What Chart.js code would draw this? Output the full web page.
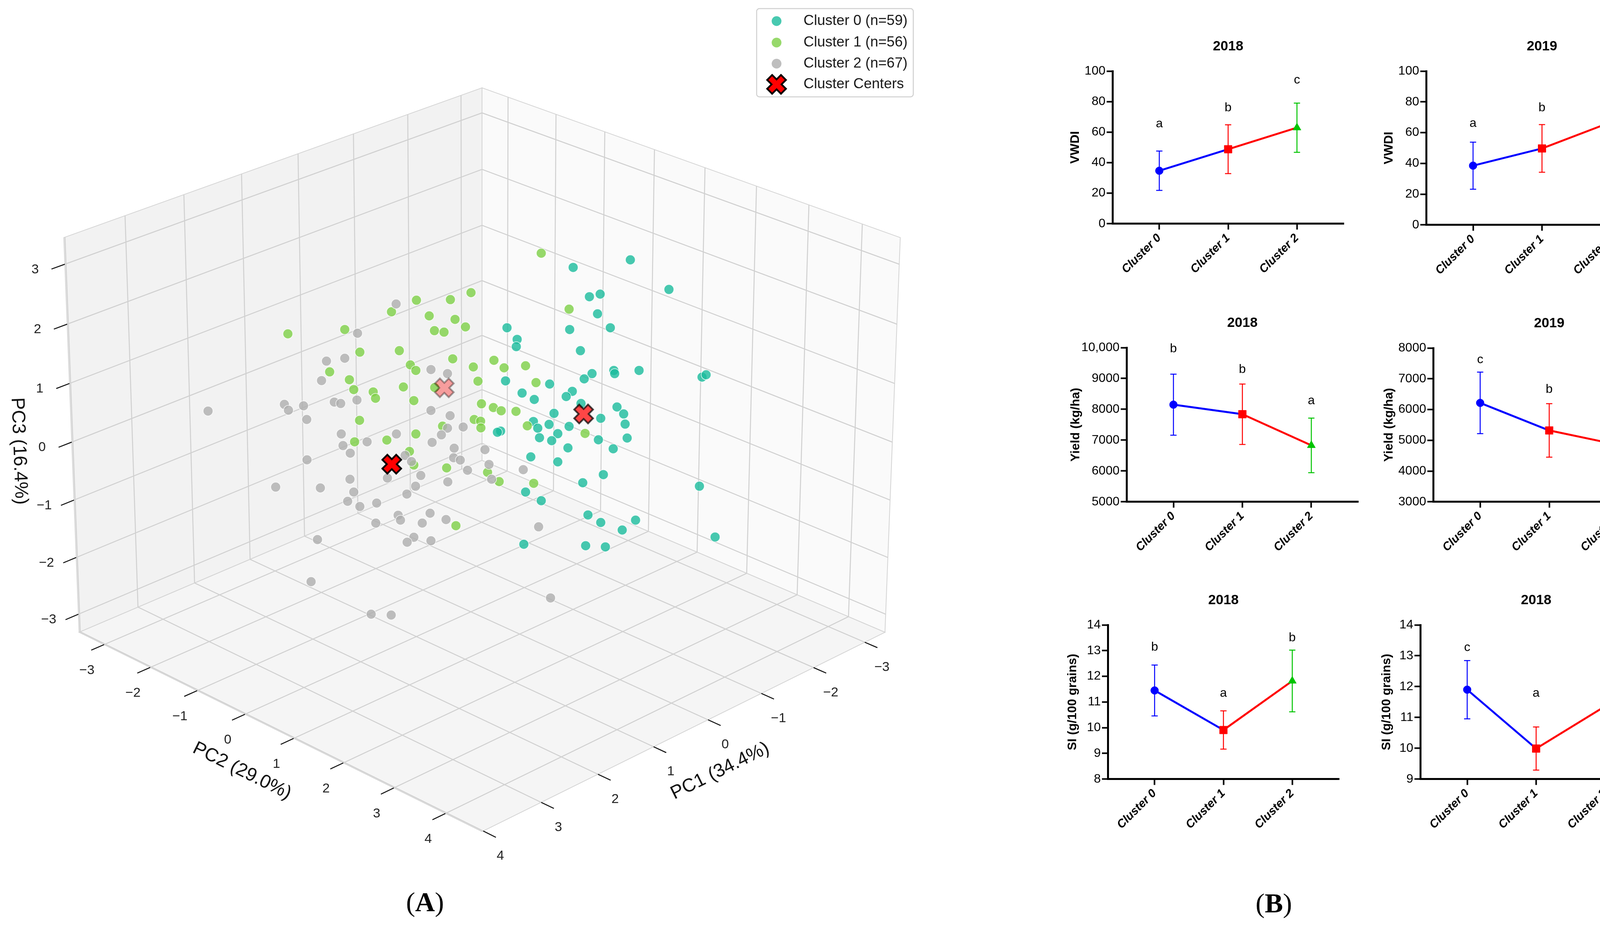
<!DOCTYPE html>
<html>
<head>
<meta charset="utf-8">
<script src="https://cdn.jsdelivr.net/npm/chart.js@4.4.1/dist/chart.umd.min.js"></script>
<style>
  html, body { margin: 0; padding: 0; background: #fff; }
  #page { position: relative; width: 4285px; height: 2376px; overflow: hidden; background: #fff; }
  #page canvas { position: absolute; }
  .plabel { position: absolute; font-family: 'Liberation Serif', 'Times New Roman', serif; font-size: 70px;
            transform: translate(-50%, -50%); color: #000; white-space: nowrap; }
</style>
</head>
<body>
<div id="page">
  <canvas id="pca" width="2400" height="2376" style="left:0;top:0;width:2400px;height:2376px"></canvas>
  <div class="plabel" style="left:1088px;top:2310px">(<b>A</b>)</div>
  <div class="plabel" style="left:3261px;top:2313px">(<b>B</b>)</div>
</div>
<script>
const SANS = "'Liberation Sans', Arial, sans-serif"

// ---- Panel A: PCA scores, read off the picture as view-plane coordinates
// (percent of the box half-width, after the 3D projection)
const cluster0X = [51.1, 31.4, 64.4, 37.0, 40.7, 39.8, 8.6, 30.2, 44.2, 12.1, 11.8, 33.9, 45.4, 45.7, 54.1, 37.9, 35.2, 75.8, 77.2, 8.1,
  23.3, 13.8, 18.0, 31.1, 29.0, 34.1, 46.5, 48.8, 24.8, 40.9, 49.3, 17.7, 19.2, 23.1, 30.0, 26.1, 6.4, 5.3, 19.8, 24.0,
  40.1, 50.0, 29.6, 45.2, 16.8, 26.1, 41.8, 34.7, 74.9, 15.0, 20.4, 36.5, 40.9, 52.9, 48.3, 35.7, 42.5, 14.4, 80.3]
const cluster0Y = [61.6, 59.0, 51.4, 48.9, 49.8, 43.0, 38.2, 37.6, 38.2, 34.2, 31.7, 30.3, 23.5, 22.4, 23.5, 22.4, 20.6, 21.2, 22.0, 19.9,
  18.8, 15.7, 13.5, 16.3, 14.5, 12.1, 10.9, 8.5, 8.7, 7.0, 5.0, 5.9, 3.6, 4.9, 4.2, 1.7, 2.6, 2.2, 0.3, -0.7,
  -0.4, 0.2, -3.2, -3.5, -6.3, -8.0, -12.4, -15.2, -16.4, -18.4, -21.4, -26.3, -28.9, -28.1, -31.5, -36.9, -37.3, -36.4, -33.9]

const cluster1X = [-22.6, -10.9, -31.2, -18.2, -9.3, -16.4, -13.1, -66.9, -47.3, -42.1, -28.5, -10.1, -24.7, -22.8, -52.5, -45.7, -44.2, -27.1,
  -37.5, -36.7, -23.5, -16.3, -42.2, -43.9, -32.8, -22.8, -13.6, -12.2, -25.0, -23.5, 20.4, -3.8, 30.0, -5.7, 4.1, -3.0,
  7.6, 15.0, -1.4, 18.6, -0.2, 3.9, 6.6, 11.7, -2.7, -0.5, -0.4, 15.6, 35.5, 1.9, 5.9, 17.8, -9.0]
const cluster1Y = [47.7, 47.9, 43.7, 42.3, 41.1, 37.2, 36.7, 36.1, 37.6, 29.8, 30.3, 27.5, 25.4, 23.5, 23.0, 20.3, 16.9, 17.8,
  16.1, 13.9, 13.1, 17.6, 6.3, -1.1, -0.5, 1.6, 4.3, -10.1, -4.4, -9.1, 63.9, 50.3, 44.6, 38.5, 27.0, 24.7,
  24.4, 25.1, 19.8, 19.3, 12.0, 10.7, 9.6, 9.4, 6.6, 6.0, 3.7, 4.4, 1.8, -11.6, -14.8, -15.4, -30.0]

const cluster2X = [-29.6, -42.9, -47.3, -53.6, -55.3, -94.4, -68.1, -66.7, -61.5, -50.9, -48.7, -43.1, -60.4, -17.6, -11.9, -17.6, -11.0, -11.9,
  -48.5, -29.5, -39.6, -47.9, -45.4, -14.0, -17.2, -9.6, -9.8, -7.5, -26.5, -24.3, -60.3, -31.7, -32.6, -21.1, -45.5, -71.1,
  -55.7, -22.9, -11.8, -44.2, -25.9, -46.3, -36.3, -42.1, -6.5, 1.0, -5.0, 2.4, 3.3, 14.2, -28.9, -28.1, -36.6, -17.9,
  -20.6, -12.4, -23.5, -25.8, -17.6, -56.7, -58.9, -38.2, -31.3, 19.5, 23.6]
const cluster2Y = [46.4, 36.3, 27.7, 26.7, 20.0, 9.5, 11.8, 9.8, 11.3, 12.6, 12.1, 13.3, 6.6, 23.8, 22.4, 9.7, 7.9, 3.6,
  1.6, 1.6, -1.1, -2.4, -5.0, 1.3, -1.3, -3.3, -6.6, -7.4, -5.8, -7.9, -7.3, -9.4, -13.6, -12.7, -14.0, -16.7,
  -17.0, -16.4, -14.9, -18.4, -19.1, -21.6, -22.2, -23.4, 4.0, -3.8, -10.9, -8.9, -14.0, -10.7, -26.4, -28.1, -29.1, -25.7,
  -29.1, -27.9, -34.0, -35.7, -35.2, -34.8, -49.3, -60.5, -60.8, -30.4, -54.9]

const centerX = [35.0, -13.0, -31.1]
const centerY = [8.5, 17.5, -8.8]
const centerAlpha = [0.72, 0.35, 1]

const legendNames = ['Cluster 0 (n=59)', 'Cluster 1 (n=56)', 'Cluster 2 (n=67)', 'Cluster Centers']
const pc1Ticks = [-3, -2, -1, 0, 1, 2, 3, 4]
const pc2Ticks = [-3, -2, -1, 0, 1, 2, 3, 4]
const pc3Ticks = [-3, -2, -1, 0, 1, 2, 3]
const pc1Range = [-3.4, 4.02]
const pc2Range = [-3.55, 4.7]
const pc3Range = [-3.32, 3.44]
const axisTitles = ['PC1 (34.4%)', 'PC2 (29.0%)', 'PC3 (16.4%)']

// ---- Panel B: cluster means with SD
const clusterLabels = ['Cluster 0', 'Cluster 1', 'Cluster 2']

const vwdi2018Mean = [34.7, 48.8, 62.9]
const vwdi2018Sd = [12.9, 16.0, 16.1]
const vwdi2018Letters = ['a', 'b', 'c']
const vwdi2018LetterY = [65.4, 75.8, 94.1]

const vwdi2019Mean = [38.5, 49.7, 66.8]
const vwdi2019Sd = [15.3, 15.5, 13.1]
const vwdi2019Letters = ['a', 'b', 'c']
const vwdi2019LetterY = [65.8, 76.2, 94.3]

const yield2018Mean = [8150, 7840, 6830]
const yield2018Sd = [990, 980, 885]
const yield2018Letters = ['b', 'b', 'a']
const yield2018LetterY = [9956, 9286, 8269]

const yield2019Mean = [6215, 5320, 4850]
const yield2019Sd = [1000, 870, 950]
const yield2019Letters = ['c', 'b', 'a']
const yield2019LetterY = [7620, 6649, 6225]

const siAMean = [11.45, 9.91, 11.82]
const siASd = [0.99, 0.745, 1.2]
const siALetters = ['b', 'a', 'b']
const siALetterY = [13.13, 11.34, 13.49]

const siBMean = [11.9, 9.99, 11.36]
const siBSd = [0.945, 0.70, 0.865]
const siBLetters = ['c', 'a', 'b']
const siBLetterY = [13.26, 11.78, 12.88]

const vwdiTicks = [0, 20, 40, 60, 80, 100]
const vwdiTickLabels = ['0', '20', '40', '60', '80', '100']
const yield2018Ticks = [5000, 6000, 7000, 8000, 9000, 10000]
const yield2018TickLabels = ['5000', '6000', '7000', '8000', '9000', '10,000']
const yield2019Ticks = [3000, 4000, 5000, 6000, 7000, 8000]
const yield2019TickLabels = ['3000', '4000', '5000', '6000', '7000', '8000']
const siATicks = [8, 9, 10, 11, 12, 13, 14]
const siATickLabels = ['8', '9', '10', '11', '12', '13', '14']
const siBTicks = [9, 10, 11, 12, 13, 14]
const siBTickLabels = ['9', '10', '11', '12', '13', '14']

// ------------------------------------------------------------------
const page = document.getElementById('page')
const pcaFill = ['rgba(26,188,156,0.8)', 'rgba(125,208,70,0.8)', 'rgba(174,174,174,0.8)']
const clusterColors = ['#0000ff', '#ff0000', '#00c400']
const lineColors = ['#0000ff', '#ff0000']

const ELEV = 25 * Math.PI / 180
const DIST = 17

const toPoints = (xs, ys) => xs.map((x, i) => ({ x, y: ys[i] }))
const norm = (v, r) => (v - (r[0] + r[1]) / 2) / ((r[1] - r[0]) / 2)
const fmt = t => (t < 0 ? '\u2212' + (-t) : String(t))

// 3D -> view plane, same units as the scatter data
function project(a, b, c) {
  const X = norm(a, pc1Range), Y = norm(b, pc2Range), Z = norm(c, pc3Range) * 0.75
  const u = (Y - X) / Math.SQRT2
  const d = (X + Y) / Math.SQRT2
  const v = Z * Math.cos(ELEV) - d * Math.sin(ELEV)
  const w = d * Math.cos(ELEV) + Z * Math.sin(ELEV)
  const s = DIST / (DIST - w)
  return { x: 100 * u * s, y: 100 * v * s }
}

function crossImage(alpha) {
  const size = 60
  const c = document.createElement('canvas')
  c.width = c.height = size
  const g = c.getContext('2d')
  g.translate(size / 2, size / 2)
  g.rotate(Math.PI / 4)
  const a = 9, L = 25
  const pts = [[a, a], [a, L], [-a, L], [-a, a], [-L, a], [-L, -a], [-a, -a], [-a, -L], [a, -L], [a, -a], [L, -a], [L, a]]
  g.beginPath()
  pts.forEach(([x, y], i) => i ? g.lineTo(x, y) : g.moveTo(x, y))
  g.closePath()
  g.globalAlpha = alpha
  g.fillStyle = '#ff0000'
  g.fill()
  g.lineWidth = 4.5
  g.lineJoin = 'miter'
  g.strokeStyle = '#000'
  g.stroke()
  return c
}

const pcaBox = {
  id: 'pcaBox',
  beforeDatasetsDraw(chart) {
    const { ctx, scales: { x, y } } = chart
    const P = (a, b, c) => { const p = project(a, b, c); return [x.getPixelForValue(p.x), y.getPixelForValue(p.y)] }
    const [a0, a1] = pc1Range, [b0, b1] = pc2Range, [c0, c1] = pc3Range
    const poly = (pts, fill) => {
      ctx.beginPath()
      pts.forEach((p, i) => { const q = P(...p); i ? ctx.lineTo(q[0], q[1]) : ctx.moveTo(q[0], q[1]) })
      ctx.closePath()
      ctx.fillStyle = fill
      ctx.fill()
      ctx.strokeStyle = '#d4d4d4'
      ctx.lineWidth = 2
      ctx.stroke()
    }
    const seg = (p, q) => {
      const s = P(...p), e = P(...q)
      ctx.beginPath(); ctx.moveTo(s[0], s[1]); ctx.lineTo(e[0], e[1]); ctx.stroke()
    }
    ctx.save()
    poly([[a0, b0, c0], [a1, b0, c0], [a1, b0, c1], [a0, b0, c1]], '#f2f2f2')
    poly([[a0, b0, c0], [a0, b1, c0], [a0, b1, c1], [a0, b0, c1]], '#fafafa')
    poly([[a0, b0, c0], [a1, b0, c0], [a1, b1, c0], [a0, b1, c0]], '#f5f5f5')

    ctx.strokeStyle = '#d0d0d0'
    ctx.lineWidth = 2.5
    pc1Ticks.forEach(t => { seg([t, b0, c0], [t, b0, c1]); seg([t, b0, c0], [t, b1, c0]) })
    pc2Ticks.forEach(t => { seg([a0, t, c0], [a0, t, c1]); seg([a0, t, c0], [a1, t, c0]) })
    pc3Ticks.forEach(t => { seg([a0, b0, t], [a1, b0, t]); seg([a0, b0, t], [a0, b1, t]) })

    // ticks and tick labels
    ctx.strokeStyle = '#111'
    ctx.lineWidth = 2.5
    ctx.fillStyle = '#222'
    ctx.font = `34px ${SANS}`
    ctx.textAlign = 'center'
    ctx.textBaseline = 'middle'
    pc1Ticks.forEach(t => {
      seg([t, b1, c0], [t, b1 + 0.24, c0])
      const p = P(t, b1, c0)
      ctx.fillText(fmt(t), p[0] + 44, p[1] + 64)
    })
    pc2Ticks.forEach(t => {
      seg([a1, t, c0], [a1 + 0.22, t, c0])
      const p = P(a1, t, c0)
      ctx.fillText(fmt(t), p[0] - 44, p[1] + 66)
    })
    pc3Ticks.forEach(t => {
      seg([a1, b0, t], [a1 + 0.22, b0, t])
      const p = P(a1, b0, t)
      ctx.fillText(fmt(t), p[0] - 76, p[1] + 14)
    })

    // axis titles, aligned with their edges
    ctx.font = `48px ${SANS}`
    ctx.fillStyle = '#111'
    const title = (text, mid, from, to, dx, dy) => {
      const m = P(...mid), f = P(...from), e = P(...to)
      const ang = Math.atan2(e[1] - f[1], e[0] - f[0])
      ctx.save()
      ctx.translate(m[0] + dx, m[1] + dy)
      ctx.rotate(ang)
      ctx.fillText(text, 0, 0)
      ctx.restore()
    }
    const am = (a0 + a1) / 2, bm = (b0 + b1) / 2, cm = (c0 + c1) / 2
    title(axisTitles[0], [am, b1, c0], [a1, b1, c0], [a0, b1, c0], 74, 110)
    title(axisTitles[1], [a1, bm, c0], [a1, b0, c0], [a1, b1, c0], -79, 110)
    title(axisTitles[2], [a1, b0, cm], [a1, b0, c1], [a1, b0, c0], -135, 32)
    ctx.restore()
  },
  afterDraw(chart) {
    const { ctx } = chart
    const left = 1937, top = 22, w = 401, h = 226, r = 7
    ctx.save()
    ctx.beginPath()
    ctx.roundRect(left, top, w, h, r)
    ctx.fillStyle = 'rgba(255,255,255,0.85)'
    ctx.fill()
    ctx.strokeStyle = '#cfcfcf'
    ctx.lineWidth = 2.5
    ctx.stroke()
    const rows = [54, 109, 163, 216]
    rows.forEach((ry, i) => {
      if (i < 3) {
        ctx.beginPath()
        ctx.arc(1988, ry, 12.5, 0, Math.PI * 2)
        ctx.fillStyle = pcaFill[i]
        ctx.fill()
      } else {
        ctx.drawImage(crossImage(1), 1988 - 30, ry - 30)
      }
      ctx.fillStyle = '#1a1a1a'
      ctx.font = `37px ${SANS}`
      ctx.textAlign = 'left'
      ctx.textBaseline = 'middle'
      ctx.fillText(legendNames[i], 2057, ry)
    })
    ctx.restore()
  }
}

const pcaDataset = (i, xs, ys, order) => ({
  label: legendNames[i],
  data: toPoints(xs, ys),
  backgroundColor: pcaFill[i],
  borderColor: 'rgba(255,255,255,0.85)',
  borderWidth: 1.5,
  pointRadius: 12.5,
  order
})

new Chart(document.getElementById('pca'), {
  type: 'scatter',
  data: {
    datasets: [
      {
        label: legendNames[3],
        data: toPoints(centerX, centerY),
        pointStyle: centerAlpha.map(a => crossImage(a)),
        pointRadius: 26,
        order: 0
      },
      pcaDataset(2, cluster2X, cluster2Y, 1),
      pcaDataset(1, cluster1X, cluster1Y, 2),
      pcaDataset(0, cluster0X, cluster0Y, 3)
    ]
  },
  options: {
    responsive: false,
    animation: false,
    devicePixelRatio: 1,
    events: [],
    layout: { padding: 0, autoPadding: false },
    scales: {
      x: { type: 'linear', display: false, min: -1234 / 7.43, max: (2400 - 1234) / 7.43 },
      y: { type: 'linear', display: false, min: (1123 - 2376) / 7.43, max: 1123 / 7.43 }
    },
    plugins: { legend: { display: false }, tooltip: { enabled: false } }
  },
  plugins: [pcaBox]
})

// ---- Panel B charts
const errorBars = {
  id: 'errorBars',
  beforeDatasetsDraw(chart, args, opts) {
    const { ctx, scales: { x, y } } = chart
    ctx.save()
    ctx.lineWidth = 2.5
    opts.mean.forEach((m, i) => {
      const px = x.getPixelForValue(i)
      const hi = y.getPixelForValue(m + opts.sd[i])
      const lo = y.getPixelForValue(m - opts.sd[i])
      ctx.strokeStyle = clusterColors[i]
      ctx.beginPath()
      ctx.moveTo(px, hi); ctx.lineTo(px, lo)
      ctx.moveTo(px - 8, hi); ctx.lineTo(px + 8, hi)
      ctx.moveTo(px - 8, lo); ctx.lineTo(px + 8, lo)
      ctx.stroke()
    })
    ctx.restore()
  },
  afterDatasetsDraw(chart, args, opts) {
    const { ctx, scales: { x, y } } = chart
    ctx.save()
    ctx.fillStyle = '#000'
    ctx.font = `32px ${SANS}`
    ctx.textAlign = 'center'
    ctx.textBaseline = 'middle'
    opts.letters.forEach((t, i) => ctx.fillText(t, x.getPixelForValue(i), y.getPixelForValue(opts.letterY[i])))
    ctx.restore()
  }
}

const panels = [
  { title: '2018', yTitle: 'VWDI', mean: vwdi2018Mean, sd: vwdi2018Sd, letters: vwdi2018Letters, letterY: vwdi2018LetterY,
    ticks: vwdiTicks, tickLabels: vwdiTickLabels, area: [2848, 182, 3440, 573], yBox: 114 },
  { title: '2019', yTitle: 'VWDI', mean: vwdi2019Mean, sd: vwdi2019Sd, letters: vwdi2019Letters, letterY: vwdi2019LetterY,
    ticks: vwdiTicks, tickLabels: vwdiTickLabels, area: [3651, 182, 4244, 576], yBox: 114 },
  { title: '2018', yTitle: 'Yield (kg/ha)', mean: yield2018Mean, sd: yield2018Sd, letters: yield2018Letters, letterY: yield2018LetterY,
    ticks: yield2018Ticks, tickLabels: yield2018TickLabels, area: [2884, 890, 3477, 1285], yBox: 149 },
  { title: '2019', yTitle: 'Yield (kg/ha)', mean: yield2019Mean, sd: yield2019Sd, letters: yield2019Letters, letterY: yield2019LetterY,
    ticks: yield2019Ticks, tickLabels: yield2019TickLabels, area: [3669, 891, 4263, 1285], yBox: 132 },
  { title: '2018', yTitle: 'SI (g/100 grains)', mean: siAMean, sd: siASd, letters: siALetters, letterY: siALetterY,
    ticks: siATicks, tickLabels: siATickLabels, area: [2836, 1600, 3428, 1995], yBox: 109 },
  { title: '2018', yTitle: 'SI (g/100 grains)', mean: siBMean, sd: siBSd, letters: siBLetters, letterY: siBLetterY,
    ticks: siBTicks, tickLabels: siBTickLabels, area: [3636, 1600, 4229, 1995], yBox: 105 }
]

function panelConfig(p) {
  return {
    type: 'scatter',
    data: {
      datasets: [{
        data: p.mean.map((m, i) => ({ x: i, y: m })),
        showLine: true,
        borderWidth: 5,
        borderColor: lineColors[0],
        segment: { borderColor: c => lineColors[c.p0DataIndex] },
        pointStyle: ['circle', 'rect', 'triangle'],
        pointRadius: [10, 14, 12],
        pointBackgroundColor: clusterColors,
        pointBorderColor: clusterColors,
        pointBorderWidth: 1,
        clip: false
      }]
    },
    options: {
      responsive: false,
      animation: false,
      devicePixelRatio: 1,
      events: [],
      layout: { padding: { left: 0, right: 10, top: 0, bottom: 0 } },
      scales: {
        x: {
          type: 'linear', min: -0.68, max: 2.68,
          afterBuildTicks: s => { s.ticks = clusterLabels.map((_, i) => ({ value: i })) },
          ticks: {
            callback: v => clusterLabels[v],
            font: { family: SANS, size: 30, weight: 'bold', style: 'italic' },
            color: '#000', maxRotation: 45, minRotation: 45, autoSkip: false, padding: 4
          },
          grid: { drawOnChartArea: false, drawTicks: true, tickLength: 15, tickWidth: 4, tickColor: '#000' },
          border: { display: true, color: '#000', width: 5 }
        },
        y: {
          type: 'linear', min: p.ticks[0], max: p.ticks[p.ticks.length - 1],
          afterBuildTicks: s => { s.ticks = p.ticks.map(v => ({ value: v })) },
          afterFit: s => { s.width = p.yBox },
          ticks: {
            callback: v => p.tickLabels[p.ticks.indexOf(v)],
            font: { family: SANS, size: 32 }, color: '#000', padding: 3
          },
          grid: { drawOnChartArea: false, drawTicks: true, tickLength: 15, tickWidth: 4, tickColor: '#000' },
          border: { display: true, color: '#000', width: 5 },
          title: { display: true, text: p.yTitle, font: { family: SANS, size: 32, weight: 'bold' }, color: '#000', padding: 0 }
        }
      },
      plugins: {
        legend: { display: false },
        tooltip: { enabled: false },
        title: {
          display: true, text: p.title, fullSize: false, color: '#000',
          font: { family: SANS, size: 35, weight: 'bold' },
          padding: { top: 0, bottom: 42 }
        },
        errorBars: { mean: p.mean, sd: p.sd, letters: p.letters, letterY: p.letterY }
      }
    },
    plugins: [errorBars]
  }
}

function buildPanel(p) {
  const make = (w, h) => {
    const c = document.createElement('canvas')
    c.width = w; c.height = h
    c.style.width = w + 'px'; c.style.height = h + 'px'
    page.appendChild(c)
    return { c, chart: new Chart(c, panelConfig(p)) }
  }
  const first = make(900, 800)
  const a = first.chart.chartArea
  const w = Math.round(900 - (a.right - a.left) + (p.area[2] - p.area[0]))
  const h = Math.round(800 - (a.bottom - a.top) + (p.area[3] - p.area[1]))
  first.chart.destroy()
  first.c.remove()
  const second = make(w, h)
  const b = second.chart.chartArea
  second.c.style.left = (p.area[0] - b.left) + 'px'
  second.c.style.top = (p.area[1] - b.top) + 'px'
}

panels.forEach(buildPanel)
</script>
</body>
</html>
